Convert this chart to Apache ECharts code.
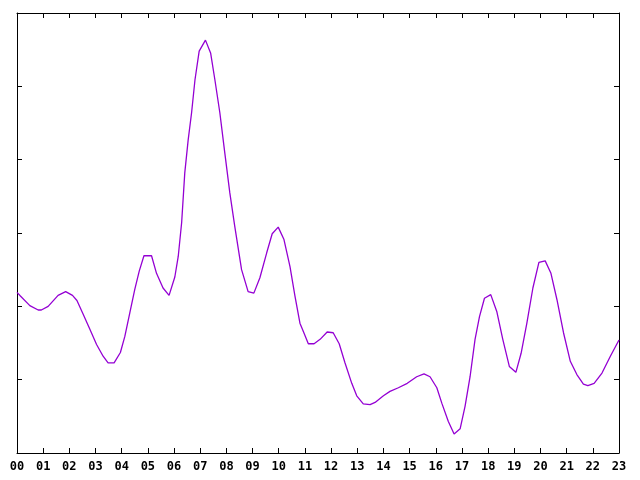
<!DOCTYPE html>
<html>
<head>
<meta charset="utf-8">
<script src="https://cdn.jsdelivr.net/npm/echarts@6/dist/echarts.min.js"></script>
<style>
html, body { margin: 0; padding: 0; background: #fff; }
#main { width: 640px; height: 480px; }
</style>
</head>
<body>
<div id="main"></div>
<script>
// hour of day (x) and value (y)
var hours = [0, 0.13, 0.49, 0.81, 0.93, 1.19, 1.57, 1.86, 2.12, 2.29,
    2.52, 2.78, 3.04, 3.29, 3.48, 3.71, 3.95, 4.12, 4.31, 4.50,
    4.67, 4.85, 5.14, 5.33, 5.58, 5.81, 6.03, 6.16, 6.29, 6.41,
    6.54, 6.67, 6.80, 6.96, 7.20, 7.40, 7.56, 7.75, 7.94, 8.13,
    8.32, 8.58, 8.83, 9.05, 9.28, 9.54, 9.75, 9.98, 10.20, 10.43,
    10.62, 10.81, 10.96, 11.13, 11.35, 11.58, 11.85, 12.08, 12.31, 12.53,
    12.79, 12.98, 13.23, 13.49, 13.68, 14.00, 14.25, 14.57, 14.91, 15.27,
    15.55, 15.78, 16.04, 16.23, 16.48, 16.70, 16.93, 17.12, 17.31, 17.50,
    17.67, 17.86, 18.10, 18.33, 18.56, 18.81, 19.06, 19.26, 19.48, 19.71,
    19.94, 20.18, 20.40, 20.63, 20.88, 21.14, 21.39, 21.64, 21.81, 22.05,
    22.35, 22.67, 23.0];
var values = [2.19, 2.14, 2.01, 1.95, 1.95, 2.00, 2.15, 2.20, 2.15, 2.08,
    1.90, 1.69, 1.48, 1.32, 1.23, 1.23, 1.37, 1.59, 1.91, 2.23,
    2.48, 2.69, 2.69, 2.45, 2.25, 2.15, 2.40, 2.68, 3.14, 3.82,
    4.27, 4.64, 5.09, 5.48, 5.63, 5.45, 5.09, 4.64, 4.09, 3.55,
    3.09, 2.50, 2.20, 2.18, 2.39, 2.73, 2.99, 3.08, 2.91, 2.54,
    2.14, 1.77, 1.64, 1.49, 1.49, 1.55, 1.65, 1.64, 1.49, 1.23,
    0.95, 0.78, 0.67, 0.66, 0.69, 0.78, 0.84, 0.89, 0.95, 1.04,
    1.08, 1.04, 0.89, 0.68, 0.43, 0.26, 0.33, 0.64, 1.04, 1.55,
    1.86, 2.11, 2.16, 1.93, 1.55, 1.18, 1.10, 1.36, 1.77, 2.25,
    2.60, 2.62, 2.45, 2.09, 1.64, 1.25, 1.07, 0.94, 0.92, 0.95,
    1.09, 1.32, 1.54];

var xMin = 0, xMax = 23, xStep = 1;
var yMin = 0, yMax = 6, yStep = 1;

function fnW(v) {
    return v >= 10 ? '' + v : '0' + v;
}

var points = [];
for (var i = 0; i < hours.length; i++) {
    points.push([hours[i], values[i]]);
}

var chart = echarts.init(document.getElementById('main'), null, {renderer: 'canvas'});

var axisLine = {show: true, onZero: false, lineStyle: {color: '#000', width: 1}};
var axisTick = {show: true, inside: true, length: 5, lineStyle: {color: '#000', width: 1}};

var option = {
    backgroundColor: '#fff',
    animation: false,
    grid: {left: 17, right: 21, top: 13, bottom: 27, containLabel: false},
    xAxis: [{
        type: 'value', position: 'bottom',
        min: xMin, max: xMax, interval: xStep,
        axisLine: axisLine, axisTick: axisTick,
        splitLine: {show: false},
        axisLabel: {
            show: true, margin: 8, color: '#000',
            fontFamily: 'DejaVu Sans Mono', fontWeight: 'bold', fontSize: 12,
            formatter: function (v) { return fnW(v); }
        }
    }, {
        type: 'value', position: 'top', show: true,
        min: xMin, max: xMax, interval: xStep,
        axisLine: axisLine,
        axisTick: {show: true, inside: true, length: 5, lineStyle: {color: '#000', width: 1}},
        splitLine: {show: false}, axisLabel: {show: false}
    }],
    yAxis: [{
        type: 'value', position: 'left',
        min: yMin, max: yMax, interval: yStep,
        axisLine: axisLine, axisTick: axisTick,
        splitLine: {show: false}, axisLabel: {show: false}
    }, {
        type: 'value', position: 'right',
        min: yMin, max: yMax, interval: yStep,
        axisLine: axisLine, axisTick: axisTick,
        splitLine: {show: false}, axisLabel: {show: false}
    }],
    series: [{
        type: 'line',
        xAxisIndex: 0, yAxisIndex: 0,
        data: points,
        showSymbol: false,
        smooth: false,
        lineStyle: {color: '#9400D3', width: 1.3},
        itemStyle: {color: '#9400D3'}
    }, {
        // empty series so the mirrored axes get laid out too
        type: 'line',
        xAxisIndex: 1, yAxisIndex: 1,
        data: [],
        showSymbol: false
    }]
};

chart.setOption(option);
</script>
</body>
</html>
